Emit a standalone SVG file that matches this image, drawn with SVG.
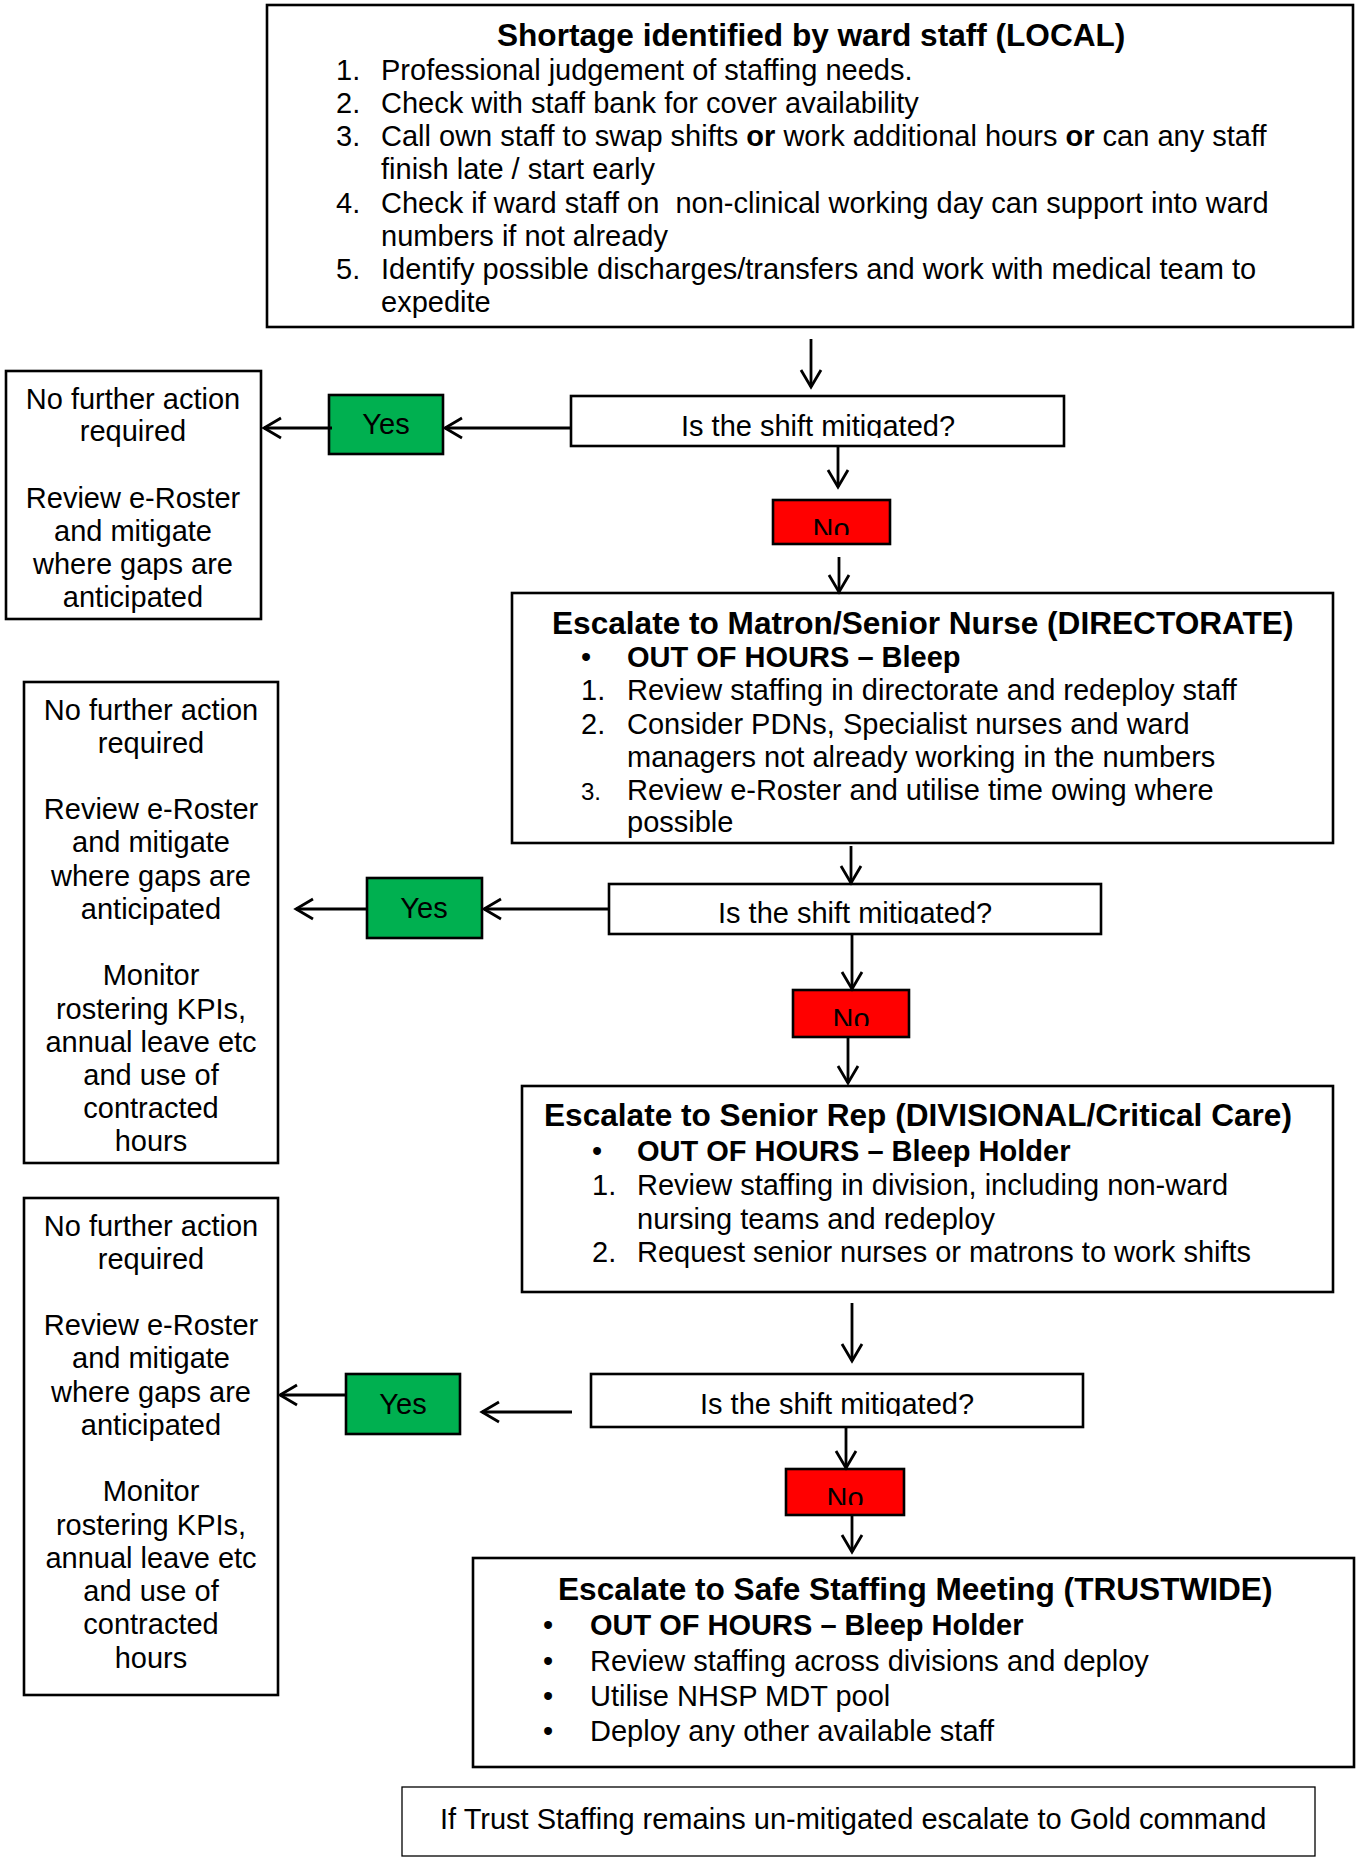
<svg xmlns="http://www.w3.org/2000/svg" width="1360" height="1864" viewBox="0 0 1360 1864">
<style>
text{font-family:"Liberation Sans",Arial,sans-serif;font-size:29px;fill:#000}
.t{font-size:31.6px;font-weight:bold}
.b{font-weight:bold}
.c{text-anchor:middle}
.box{fill:#fff;stroke:#000;stroke-width:2.6}
.yes{fill:#00B050;stroke:#000;stroke-width:2.6}
.no{fill:#FF0000;stroke:#000;stroke-width:2.6}
.ln{stroke:#000;stroke-width:2.8;fill:none;marker-end:url(#ah)}
</style>
<defs>
<marker id="ah" markerUnits="userSpaceOnUse" viewBox="-22 -12 26 24" refX="0" refY="0" markerWidth="26" markerHeight="24" orient="auto">
<path d="M-17,-10 L0,0 L-17,10" fill="none" stroke="#000" stroke-width="2.8"/>
</marker>
<clipPath id="cd1"><rect x="571" y="396" width="493" height="42"/></clipPath>
<clipPath id="cn1"><rect x="773" y="500" width="117" height="35"/></clipPath>
<clipPath id="cd2"><rect x="609" y="884" width="492" height="40"/></clipPath>
<clipPath id="cn2"><rect x="793" y="990" width="116" height="36"/></clipPath>
<clipPath id="cd3"><rect x="591" y="1374" width="492" height="42"/></clipPath>
<clipPath id="cn3"><rect x="786" y="1469" width="118" height="36"/></clipPath>
</defs>
<rect width="1360" height="1864" fill="#fff"/>

<g id="local">
<rect class="box" x="267" y="5" width="1086" height="322"/>
<text class="t" x="497" y="45.5">Shortage identified by ward staff (LOCAL)</text>
<text x="336" y="79.5">1.</text><text x="381" y="79.5">Professional judgement of staffing needs.</text>
<text x="336" y="112.5">2.</text><text x="381" y="112.5">Check with staff bank for cover availability</text>
<text x="336" y="145.5">3.</text><text x="381" y="145.5">Call own staff to swap shifts <tspan class="b">or</tspan> work additional hours <tspan class="b">or</tspan> can any staff</text>
<text x="381" y="179">finish late / start early</text>
<text x="336" y="212.5">4.</text><text x="381" y="212.5" xml:space="preserve" style="white-space:pre">Check if ward staff on  non-clinical working day can support into ward</text>
<text x="381" y="245.5">numbers if not already</text>
<text x="336" y="279">5.</text><text x="381" y="279">Identify possible discharges/transfers and work with medical team to</text>
<text x="381" y="311.5">expedite</text>
</g>

<g id="nfa1">
<rect class="box" x="6" y="371" width="255" height="248"/>
<text class="c" x="133" y="409">No further action</text>
<text class="c" x="133" y="441">required</text>
<text class="c" x="133" y="508">Review e-Roster</text>
<text class="c" x="133" y="541">and mitigate</text>
<text class="c" x="133" y="574">where gaps are</text>
<text class="c" x="133" y="607">anticipated</text>
</g>

<g id="yes1">
<rect class="yes" x="329" y="395" width="114" height="59"/>
<text class="c" x="386" y="434">Yes</text>
</g>

<g id="q1">
<rect class="box" x="571" y="396" width="493" height="50"/>
<text class="c" x="818" y="436" clip-path="url(#cd1)">Is the shift mitigated?</text>
</g>

<g id="no1">
<rect class="no" x="773" y="500" width="117" height="44"/>
<text class="c" x="831" y="539" clip-path="url(#cn1)">No</text>
</g>

<g id="directorate">
<rect class="box" x="512" y="593" width="821" height="250"/>
<text class="t" x="552" y="633.5">Escalate to Matron/Senior Nurse (DIRECTORATE)</text>
<text x="581" y="666.5">•</text><text class="b" x="627" y="666.5">OUT OF HOURS – Bleep</text>
<text x="581" y="699.5">1.</text><text x="627" y="699.5">Review staffing in directorate and redeploy staff</text>
<text x="581" y="733.5">2.</text><text x="627" y="733.5">Consider PDNs, Specialist nurses and ward</text>
<text x="627" y="766.5">managers not already working in the numbers</text>
<text x="581" y="799.5" style="font-size:24px">3.</text><text x="627" y="799.5">Review e-Roster and utilise time owing where</text>
<text x="627" y="832">possible</text>
</g>

<g id="nfa2">
<rect class="box" x="24" y="682" width="254" height="481"/>
<text class="c" x="151" y="720">No further action</text>
<text class="c" x="151" y="753">required</text>
<text class="c" x="151" y="819">Review e-Roster</text>
<text class="c" x="151" y="852">and mitigate</text>
<text class="c" x="151" y="886">where gaps are</text>
<text class="c" x="151" y="919">anticipated</text>
<text class="c" x="151" y="985">Monitor</text>
<text class="c" x="151" y="1019">rostering KPIs,</text>
<text class="c" x="151" y="1052">annual leave etc</text>
<text class="c" x="151" y="1085">and use of</text>
<text class="c" x="151" y="1118">contracted</text>
<text class="c" x="151" y="1151">hours</text>
</g>

<g id="yes2">
<rect class="yes" x="367" y="878" width="115" height="60"/>
<text class="c" x="424" y="918">Yes</text>
</g>

<g id="q2">
<rect class="box" x="609" y="884" width="492" height="50"/>
<text class="c" x="855" y="923" clip-path="url(#cd2)">Is the shift mitigated?</text>
</g>

<g id="no2">
<rect class="no" x="793" y="990" width="116" height="47"/>
<text class="c" x="851" y="1029" clip-path="url(#cn2)">No</text>
</g>

<g id="divisional">
<rect class="box" x="522" y="1086" width="811" height="206"/>
<text class="t" x="544" y="1125.5">Escalate to Senior Rep (DIVISIONAL/Critical Care)</text>
<text x="592" y="1161">•</text><text class="b" x="637" y="1161">OUT OF HOURS – Bleep Holder</text>
<text x="592" y="1194.5">1.</text><text x="637" y="1194.5">Review staffing in division, including non-ward</text>
<text x="637" y="1228.5">nursing teams and redeploy</text>
<text x="592" y="1262">2.</text><text x="637" y="1262">Request senior nurses or matrons to work shifts</text>
</g>

<g id="nfa3">
<rect class="box" x="24" y="1198" width="254" height="497"/>
<text class="c" x="151" y="1236">No further action</text>
<text class="c" x="151" y="1269">required</text>
<text class="c" x="151" y="1335">Review e-Roster</text>
<text class="c" x="151" y="1368">and mitigate</text>
<text class="c" x="151" y="1402">where gaps are</text>
<text class="c" x="151" y="1435">anticipated</text>
<text class="c" x="151" y="1501">Monitor</text>
<text class="c" x="151" y="1535">rostering KPIs,</text>
<text class="c" x="151" y="1568">annual leave etc</text>
<text class="c" x="151" y="1601">and use of</text>
<text class="c" x="151" y="1634">contracted</text>
<text class="c" x="151" y="1668">hours</text>
</g>

<g id="yes3">
<rect class="yes" x="346" y="1374" width="114" height="60"/>
<text class="c" x="403" y="1414">Yes</text>
</g>

<g id="q3">
<rect class="box" x="591" y="1374" width="492" height="53"/>
<text class="c" x="837" y="1414" clip-path="url(#cd3)">Is the shift mitigated?</text>
</g>

<g id="no3">
<rect class="no" x="786" y="1469" width="118" height="46"/>
<text class="c" x="845" y="1508" clip-path="url(#cn3)">No</text>
</g>

<g id="trustwide">
<rect class="box" x="473" y="1558" width="881" height="209"/>
<text class="t" x="558" y="1600">Escalate to Safe Staffing Meeting (TRUSTWIDE)</text>
<text x="543" y="1634.5">•</text><text class="b" x="590" y="1634.5">OUT OF HOURS – Bleep Holder</text>
<text x="543" y="1670.5">•</text><text x="590" y="1670.5">Review staffing across divisions and deploy</text>
<text x="543" y="1705.5">•</text><text x="590" y="1705.5">Utilise NHSP MDT pool</text>
<text x="543" y="1740.5">•</text><text x="590" y="1740.5">Deploy any other available staff</text>
</g>

<g id="gold">
<rect x="402" y="1787" width="913" height="69" fill="#fff" stroke="#000" stroke-width="1.3"/>
<text x="440" y="1829">If Trust Staffing remains un-mitigated escalate to Gold command</text>
</g>

<g id="connectors">
<path class="ln" d="M811,339 V387"/>
<path class="ln" d="M838,446 V487"/>
<path class="ln" d="M839,557 V592"/>
<path class="ln" d="M571,428 H445"/>
<path class="ln" d="M332,428 H264"/>
<path class="ln" d="M851,846 V883"/>
<path class="ln" d="M852,934 V989"/>
<path class="ln" d="M848,1037 V1083"/>
<path class="ln" d="M609,909 H484"/>
<path class="ln" d="M367,909 H296"/>
<path class="ln" d="M852,1303 V1361"/>
<path class="ln" d="M572,1412 H482"/>
<path class="ln" d="M346,1395 H280"/>
<path class="ln" d="M846,1427 V1468"/>
<path class="ln" d="M852,1515 V1552"/>
</g>
</svg>
